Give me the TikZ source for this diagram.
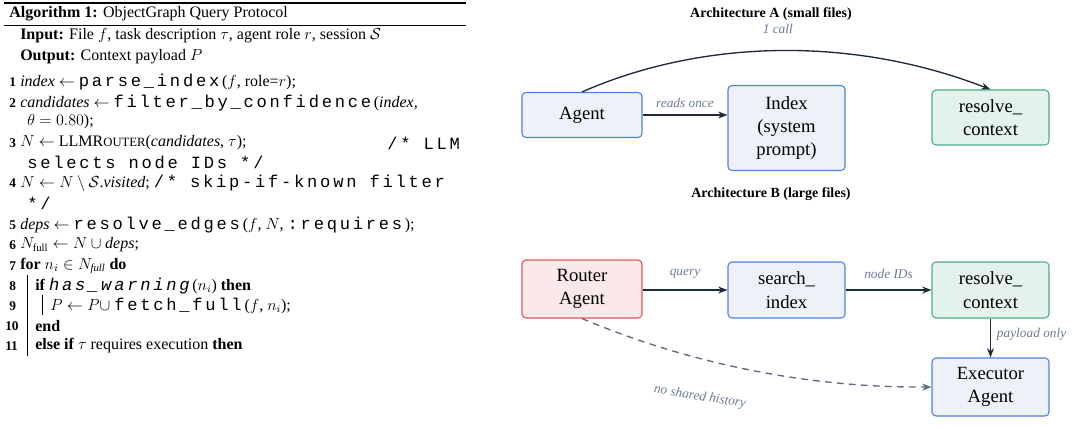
\documentclass[tikz,border=0pt]{standalone}
\usepackage{fontspec}
\setmainfont{Liberation Serif}
\setmonofont[LetterSpace=16,Scale=1.07]{Liberation Mono}
\usepackage{amsmath,amssymb}
\usetikzlibrary{arrows.meta}
\definecolor{bbord}{HTML}{4F7FE0}\definecolor{bfill}{HTML}{EEF2F8}
\definecolor{gbord}{HTML}{4CAE84}\definecolor{gfill}{HTML}{E3F3EC}
\definecolor{rbord}{HTML}{E05555}\definecolor{rfill}{HTML}{FBE8E8}
\definecolor{arr}{HTML}{1E293B}\definecolor{lab}{HTML}{6B7A90}
\begin{document}
\begin{tikzpicture}[x=0.75pt,y=-0.75pt,
 alg/.style={anchor=west,inner sep=0,font=\fontsize{12}{14}\selectfont},
 num/.style={anchor=west,inner sep=0,font=\fontsize{10}{12}\selectfont\bfseries},
 box/.style={draw=bbord,fill=bfill,rounded corners=3pt,line width=0.8pt,align=center,font=\fontsize{14}{17.5}\selectfont,inner sep=0},
 gbox/.style={box,draw=gbord,fill=gfill},
 rbox/.style={box,draw=rbord,fill=rfill},
 ar/.style={-{Stealth[length=7pt]},draw=arr,line width=1pt},
 lb/.style={font=\fontsize{10}{12}\selectfont\itshape,text=lab},
 ttl/.style={font=\fontsize{10.5}{12}\selectfont\bfseries}]
\useasboundingbox (0,0) rectangle (1081,426);
% algorithm
\draw[line width=0.8pt] (4,3) -- (466,3);
\draw[line width=0.5pt] (4,25) -- (466,25);
\node[alg] (t) at (9,14) {\textbf{Algorithm 1:} ObjectGraph Query Protocol};
\node[alg] (in) at (20,36) {\textbf{Input:} File $f$, task description $\tau$, agent role $r$, session $\mathcal{S}$};
\node[alg] (out) at (20,57) {\textbf{Output:} Context payload $P$};
\foreach \n/\y in {1/82,2/103,3/143,4/183,5/225,6/245,7/266,8/286,9/306}{\node[num] (n\n) at (9,\y) {\n};}
\foreach \n/\y in {10/326,11/346}{\node[num] (n\n) at (5,\y) {\n};}
\node[alg] (l1) at (20,82) {\textit{index} $\leftarrow$ \texttt{parse\_index}($f$, role=$r$);};
\node[alg] (l2) at (20,103) {\textit{candidates} $\leftarrow$ \texttt{filter\_by\_confidence}(\textit{index},};
\node[alg] (l2b) at (27,122) {$\theta=0.80$);};
\node[alg] (l3) at (20,143) {$N \leftarrow$ LLMR{\fontsize{9.5}{11}\selectfont OUTER}(\textit{candidates}, $\tau$);};
\node[alg,anchor=east] (c3) at (463,143) {\texttt{/* LLM}};
\node[alg] (l3b) at (27,162) {\texttt{selects node IDs */}};
\node[alg] (l4) at (20,183) {$N \leftarrow N \setminus \mathcal{S}$.\textit{visited}; \texttt{/* skip-if-known filter}};
\node[alg] (l4b) at (27,203) {\texttt{*/}};
\node[alg] (l5) at (20,225) {\textit{deps} $\leftarrow$ \texttt{resolve\_edges}($f$, $N$, \texttt{:requires});};
\node[alg] (l6) at (20,245) {$N_{\mathrm{full}} \leftarrow N \cup \textit{deps}$;};
\node[alg] (l7) at (20,266) {\textbf{for} $n_i \in N_{\mathit{full}}$ \textbf{do}};
\node[alg] (l8) at (35,286) {\textbf{if} \textit{\texttt{has\_warning}}($n_i$) \textbf{then}};
\node[alg] (l9) at (50,306) {$P \leftarrow P \cup$ \texttt{fetch\_full}($f$, $n_i$);};
\node[alg] (l10) at (35,326) {\textbf{end}};
\node[alg] (l11) at (35,346) {\textbf{else if} $\tau$ requires execution \textbf{then}};
\draw[line width=0.5pt] (27,275) -- (27,356);
\draw[line width=0.5pt] (42,295) -- (42,315);
% Architecture A
\node[ttl] (ta) at (771,14) {Architecture A (small files)};
\node[box,minimum width=120pt*0.75,minimum height=45pt*0.75] (ag) at (582,115) {Agent};
\node[box,text width=60pt,minimum width=117pt*0.75,minimum height=85pt*0.75] (ix) at (786.5,128) {Index\\(system\\prompt)};
\node[gbox,text width=60pt,minimum width=117pt*0.75,minimum height=55pt*0.75] (rc) at (990.5,117.5) {resolve\_\\context};
\draw[ar] (ag.east) -- node[lb,above=2pt] {reads once} (ag.east -| ix.west);
\draw[ar] (ag.north) .. controls (700,40) and (850,35) .. (rc.north) node[lb,pos=0.5,above=9pt] {1 call};
% Architecture B
\node[ttl] (tb) at (771,194) {Architecture B (large files)};
\node[rbox,text width=60pt,minimum width=120pt*0.75,minimum height=58pt*0.75] (ra) at (582,289) {Router\\Agent};
\node[box,text width=60pt,minimum width=117pt*0.75,minimum height=56pt*0.75] (si) at (786.5,290) {search\_\\index};
\node[gbox,text width=60pt,minimum width=117pt*0.75,minimum height=56pt*0.75] (rc2) at (990.5,290) {resolve\_\\context};
\node[box,text width=60pt,minimum width=117pt*0.75,minimum height=58pt*0.75] (ex) at (990.5,387) {Executor\\Agent};
\draw[ar] (ra.east |- si) -- node[lb,above=5pt] {query} (si);
\draw[ar] (si) -- node[lb,above=5pt] {node IDs} (rc2);
\draw[ar] (rc2) -- node[lb,right=1pt,pos=0.4] {payload only} (ex);
\draw[ar,draw=lab!80!arr,dashed,dash pattern=on 5pt off 4pt] (ra.south) .. controls (680,360) and (800,388) .. (ex.west);
\node[lb,rotate=-9] (ns) at (700,397) {no shared history};
\end{tikzpicture}
\end{document}
